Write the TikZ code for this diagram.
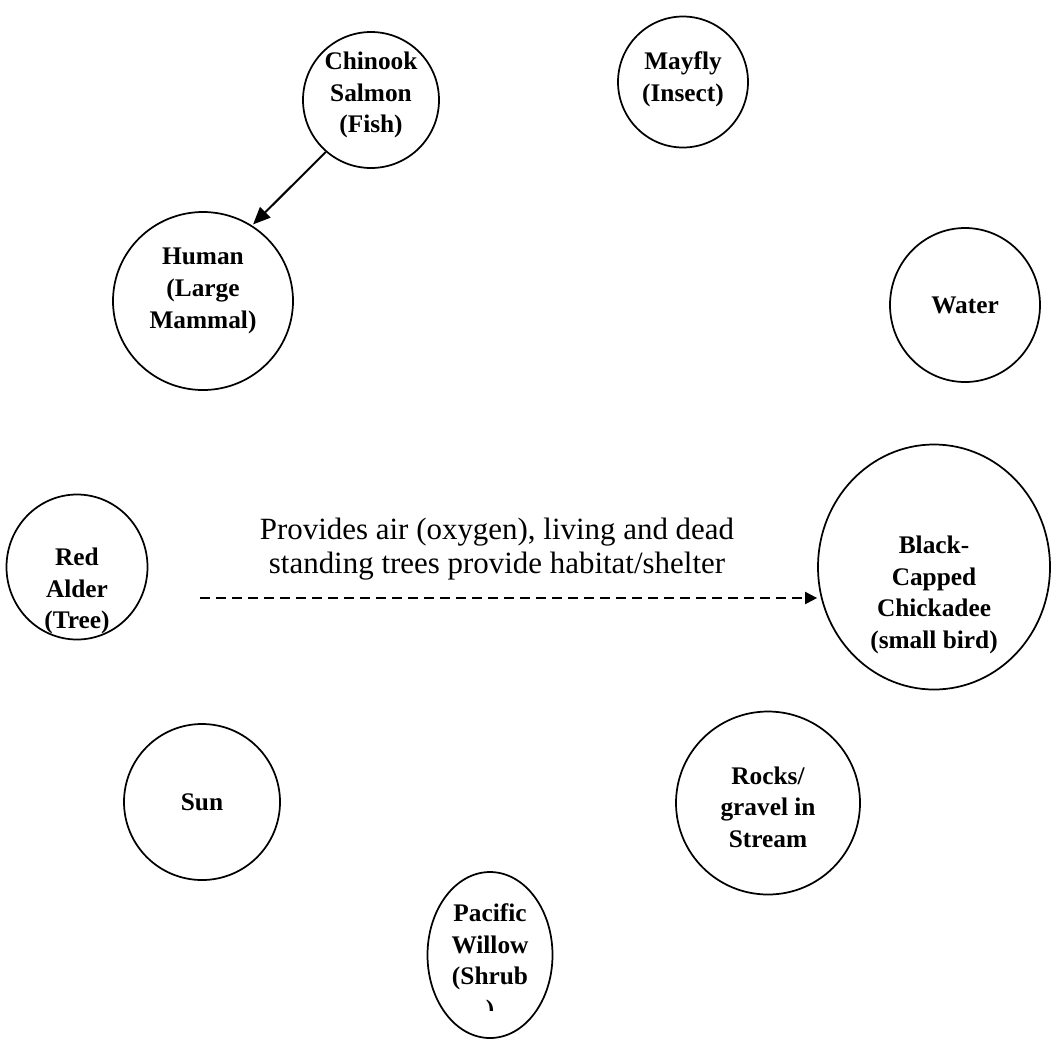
\documentclass[tikz,border=0pt]{standalone}
\usepackage{fontspec}
\setmainfont{Liberation Serif}
\usetikzlibrary{shapes.geometric, arrows.meta}

\tikzset{
    organism/.style={draw, ellipse, line width=1.3pt, inner sep=0pt},
    blobsize/.style 2 args={minimum width=#1*0.75pt, minimum height=#2*0.75pt},
    orgtext/.style={font=\fontsize{19}{23.75}\selectfont\bfseries, align=center},
    linknote/.style={font=\fontsize{23.2}{25}\selectfont, align=center},
    eats/.style={line width=1.5pt, -{Triangle[length=13pt, width=11pt]}, shorten >=1pt},
    provides/.style={line width=1.5pt, dash pattern=on 7.5pt off 4.5pt, -{Triangle[length=9pt, width=9pt]}}
}

\begin{document}
\begin{tikzpicture}[x=0.75pt, y=-0.75pt]
    \useasboundingbox (0,0) rectangle (1052,1040);

    % Circles for the stream organisms and things
    \node[organism, blobsize={136}{136}] (salmon) at (371,100) {};
    \node[organism, blobsize={130}{131}] (mayfly) at (683,82) {};
    \node[organism, blobsize={180}{178}] (human) at (203,301) {};
    \node[organism, blobsize={150}{154}] (water) at (965,305) {};
    \node[organism, blobsize={141}{145}] (alder) at (77,567) {};
    \node[organism, blobsize={232}{245}] (chickadee) at (934,567) {};
    \node[organism, blobsize={156}{156}] (sun) at (202,802) {};
    \node[organism, blobsize={184}{183}] (rocks) at (768,803) {};
    \node[organism, blobsize={125}{166}] (willow) at (490,955) {};

    % Names inside the circles
    \node[orgtext] (salmon text) at (371,95) {Chinook\\Salmon\\(Fish)};
    \node[orgtext] (mayfly text) at (683,79) {Mayfly\\(Insect)};
    \node[orgtext] (human text) at (203,291) {Human\\(Large\\Mammal)};
    \node[orgtext] (water text) at (965,305) {Water};
    \node[orgtext] (alder text) at (77,591) {Red\\Alder\\(Tree)};
    \node[orgtext] (chickadee text) at (934,595) {Black-\\Capped\\Chickadee\\(small bird)};
    \node[orgtext] (sun text) at (202,802) {Sun};
    \node[orgtext] (rocks text) at (768,807) {Rocks/\\gravel in\\Stream};
    \node[orgtext] (willow text) at (490,947) {Pacific\\Willow\\(Shrub};
    % last line of the willow text is cut off
    \begin{scope}
        \clip (470,995) rectangle (510,1010);
        \node[orgtext] (willow end) at (490,1011) {)};
    \end{scope}

    % Salmon is eaten by humans
    \draw[eats] (salmon.229) -- (human.57);

    % Red alder gives air and shelter to the chickadee
    \coordinate (alder out) at (200,598);
    \draw[provides] (alder out) -- (alder out -| chickadee.west);
    \node[linknote] (benefit) at (497,549)
        {Provides air (oxygen), living and dead\\standing trees provide habitat/shelter};
\end{tikzpicture}
\end{document}
